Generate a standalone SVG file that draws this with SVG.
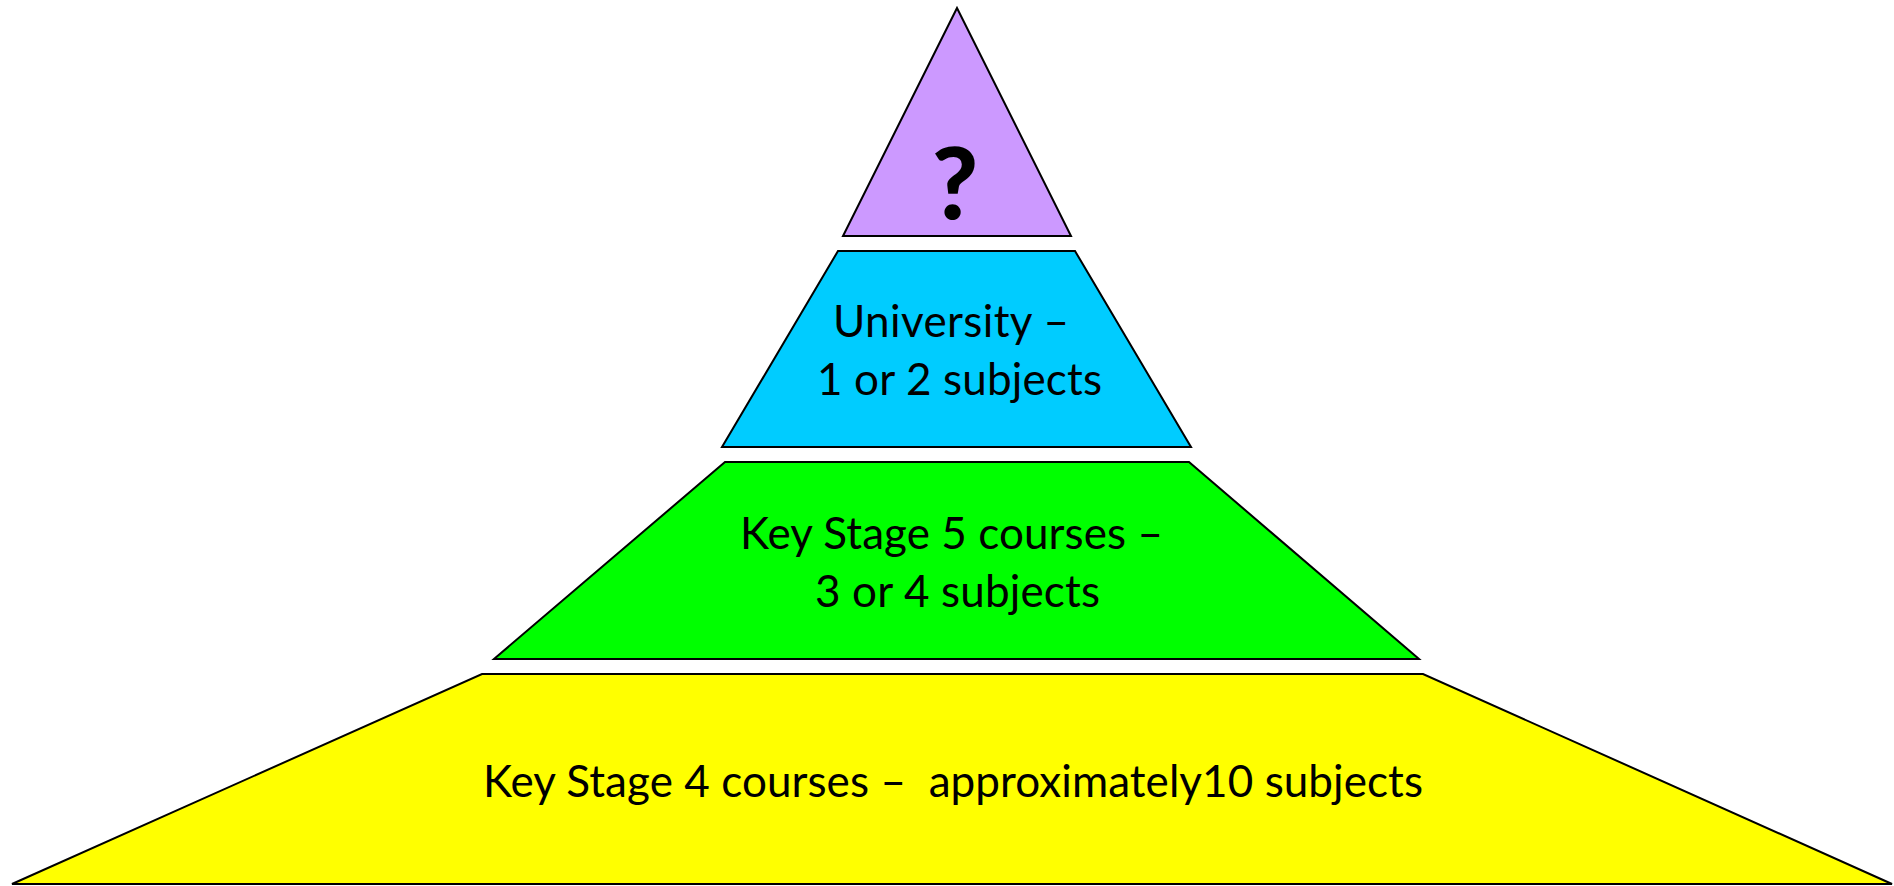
<svg xmlns="http://www.w3.org/2000/svg" width="1894" height="886" viewBox="0 0 1894 886">
  <style>
    .tier { stroke: #000; stroke-width: 2; stroke-linejoin: miter; }
    .label { font-family: Lato, "Open Sans", "Liberation Sans", sans-serif; font-size: 44px; fill: #000; }
    .mark { font-family: Lato, "Open Sans", "Liberation Sans", sans-serif; font-size: 100px; font-weight: 900; fill: #000; text-anchor: middle; }
  </style>
  <rect width="1894" height="886" fill="#fff"/>

  <!-- Top: unknown next step -->
  <g id="tier-top">
    <polygon class="tier" fill="#CC99FF" points="957,8 843,236 1071,236"/>
    <text class="mark" x="955" y="219">?</text>
  </g>

  <!-- University -->
  <g id="tier-university">
    <polygon class="tier" fill="#00CCFF" points="838,251 1075,251 1191,447 722,447"/>
    <text class="label" x="833" y="337" textLength="236">University –</text>
    <text class="label" x="817" y="395" textLength="285">1 or 2 subjects</text>
  </g>

  <!-- Key Stage 5 -->
  <g id="tier-ks5">
    <polygon class="tier" fill="#00FF00" points="725,462 1189,462 1419,659 494,659"/>
    <text class="label" x="740" y="549" textLength="423">Key Stage 5 courses –</text>
    <text class="label" x="815" y="607" textLength="285">3 or 4 subjects</text>
  </g>

  <!-- Key Stage 4 -->
  <g id="tier-ks4">
    <polygon class="tier" fill="#FFFF00" points="482,674 1423,674 1892,884 12,884"/>
    <text class="label" x="483" y="797" textLength="940" xml:space="preserve">Key Stage 4 courses –  approximately10 subjects</text>
  </g>

  <g id="connectors"/>
</svg>
